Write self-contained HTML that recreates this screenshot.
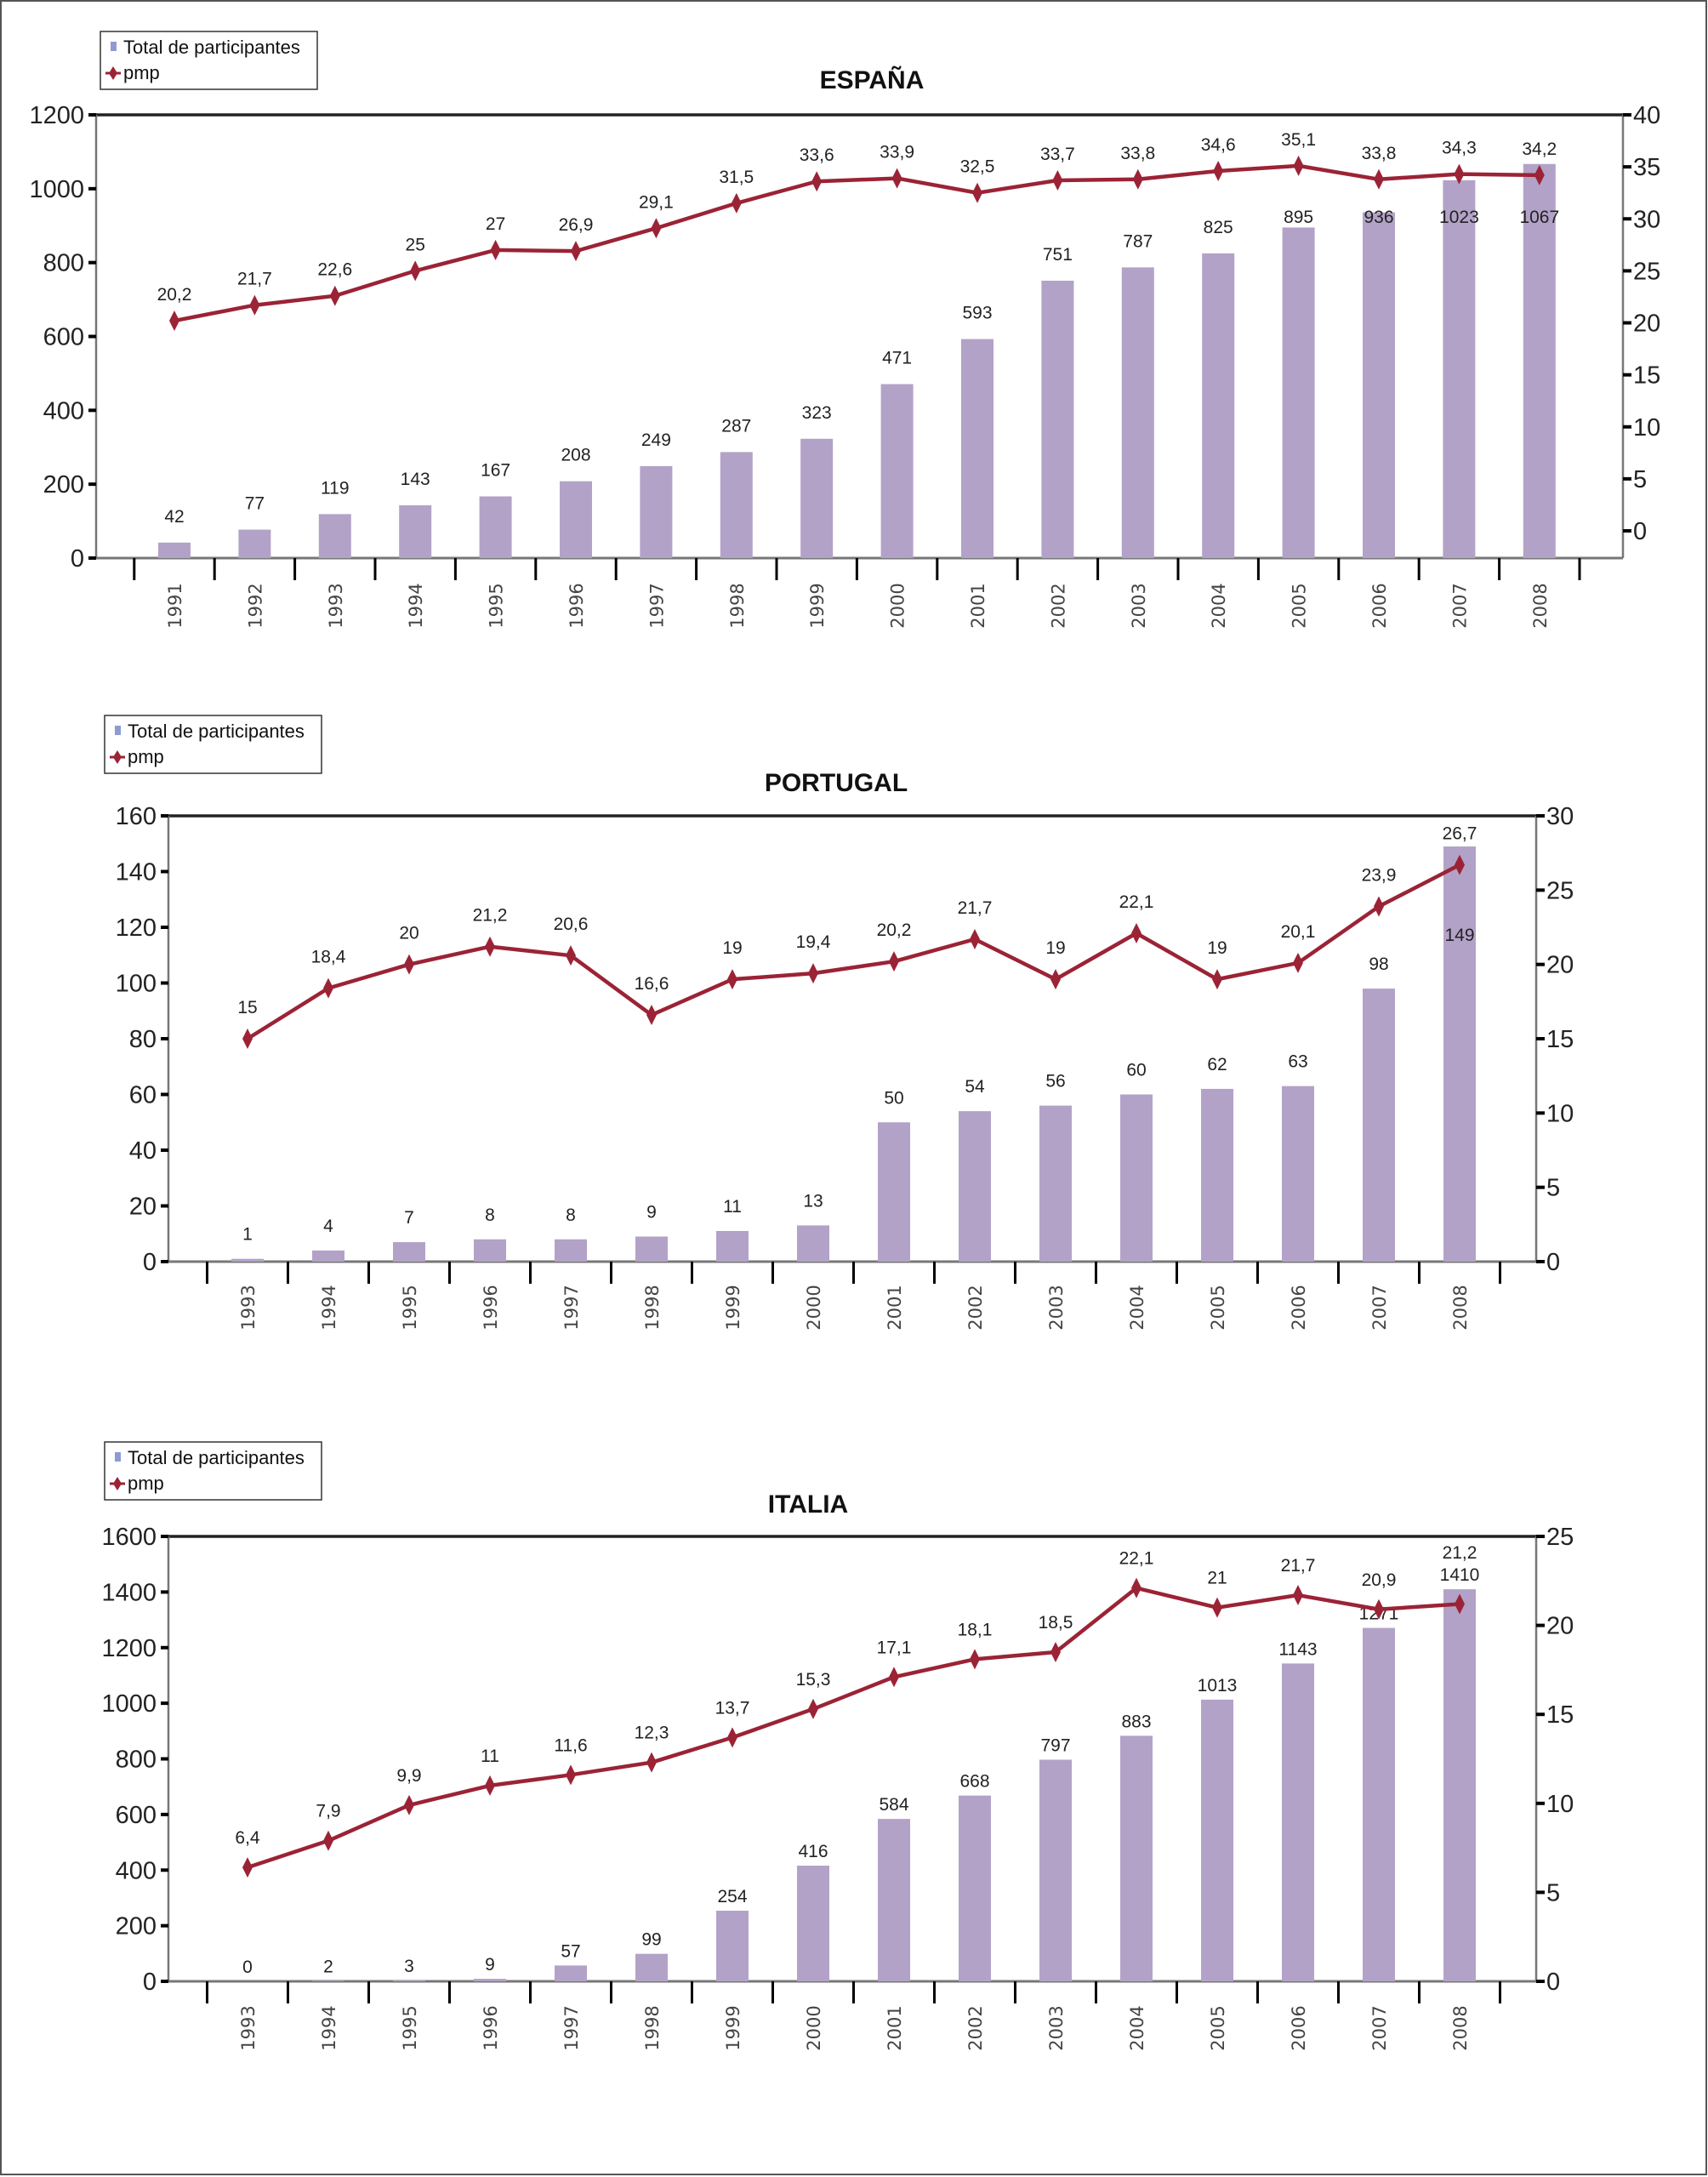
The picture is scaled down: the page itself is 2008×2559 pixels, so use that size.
<!DOCTYPE html>
<html><head><meta charset="utf-8"><style>
html,body{margin:0;padding:0;background:#fff}
svg{display:block}
text{font-family:"Liberation Sans Narrow","Liberation Sans",sans-serif}
.yr{font-family:"DejaVu Sans","Liberation Sans",sans-serif;fill:#444;font-size:21px}
</style></head><body>
<svg id="root" width="2008" height="2559" viewBox="0 0 2008 2559" xmlns="http://www.w3.org/2000/svg">
<rect x="1" y="1" width="2005" height="2555" fill="#fff" stroke="#555" stroke-width="2"/>
</svg>
<script>
// ESPAÑA data
const esYears = ["1991","1992","1993","1994","1995","1996","1997","1998","1999","2000","2001","2002","2003","2004","2005","2006","2007","2008"];
const esTotal = [42,77,119,143,167,208,249,287,323,471,593,751,787,825,895,936,1023,1067];
const esPmp = [20.2,21.7,22.6,25,27,26.9,29.1,31.5,33.6,33.9,32.5,33.7,33.8,34.6,35.1,33.8,34.3,34.2];
const esLeftTicks = [0,200,400,600,800,1000,1200];
const esRightTicks = [0,5,10,15,20,25,30,35,40];
// PORTUGAL data
const ptYears = ["1993","1994","1995","1996","1997","1998","1999","2000","2001","2002","2003","2004","2005","2006","2007","2008"];
const ptTotal = [1,4,7,8,8,9,11,13,50,54,56,60,62,63,98,149];
const ptPmp = [15,18.4,20,21.2,20.6,16.6,19,19.4,20.2,21.7,19,22.1,19,20.1,23.9,26.7];
const ptLeftTicks = [0,20,40,60,80,100,120,140,160];
const ptRightTicks = [0,5,10,15,20,25,30];
// ITALIA data
const itYears = ["1993","1994","1995","1996","1997","1998","1999","2000","2001","2002","2003","2004","2005","2006","2007","2008"];
const itTotal = [0,2,3,9,57,99,254,416,584,668,797,883,1013,1143,1271,1410];
const itPmp = [6.4,7.9,9.9,11,11.6,12.3,13.7,15.3,17.1,18.1,18.5,22.1,21,21.7,20.9,21.2];
const itLeftTicks = [0,200,400,600,800,1000,1200,1400,1600];
const itRightTicks = [0,5,10,15,20,25];

const NS="http://www.w3.org/2000/svg";
const root=document.getElementById('root');
function mk(tag,attrs,parent,txt){const e=document.createElementNS(NS,tag);for(const k in attrs)e.setAttribute(k,attrs[k]);if(txt!==undefined)e.textContent=txt;(parent||root).appendChild(e);return e;}
function fmt(v){return String(v).replace('.',',');}

function chart(cfg){
  const g=mk('g',{});
  
  
  const n=cfg.years.length;
  const yL=v=>cfg.y0-(v/cfg.lMax)*(cfg.y0-cfg.yTop);
  const yR=v=>cfg.r0-(v/cfg.rMax)*(cfg.r0-cfg.yTop);
  const xC=i=>cfg.c0+i*cfg.step;
  // legend
  const lg=mk('g',{},g);
  
  
  mk('rect',{x:cfg.lx,y:cfg.ly,width:255,height:68,fill:'#fff',stroke:'#333','stroke-width':1.5},lg);
  const le1=mk('g',{},lg);
  
  
  mk('rect',{x:cfg.lx+12,y:cfg.ly+12,width:7,height:11,fill:'#8f9bd0'},le1);
  mk('text',{x:cfg.lx+27,y:cfg.ly+26,'font-size':22,fill:'#111'},le1,'Total de participantes');
  const le2=mk('g',{},lg);
  
  
  mk('line',{x1:cfg.lx+6,y1:cfg.ly+49,x2:cfg.lx+24,y2:cfg.ly+49,stroke:'#9b2335','stroke-width':3},le2);
  mk('path',{d:`M${cfg.lx+15} ${cfg.ly+41}L${cfg.lx+20} ${cfg.ly+49}L${cfg.lx+15} ${cfg.ly+57}L${cfg.lx+10} ${cfg.ly+49}Z`,fill:'#9b2335'},le2);
  mk('text',{x:cfg.lx+27,y:cfg.ly+56,'font-size':22,fill:'#111'},le2,'pmp');
  // title
  const t=mk('text',{x:cfg.tx,y:cfg.ty,'font-size':30,'font-weight':'bold','text-anchor':'middle',fill:'#111'},g,cfg.title);
  
  
  // axes
  mk('line',{x1:cfg.xL,y1:cfg.yTop,x2:cfg.xR,y2:cfg.yTop,stroke:'#222','stroke-width':3.5},g);
  const la=mk('line',{x1:cfg.xL,y1:cfg.yTop,x2:cfg.xL,y2:cfg.y0,stroke:'#777','stroke-width':2.5},g);
  
  
  const ra=mk('line',{x1:cfg.xR,y1:cfg.yTop,x2:cfg.xR,y2:cfg.y0,stroke:'#777','stroke-width':2.5},g);
  
  
  const xa=mk('line',{x1:cfg.xL,y1:cfg.y0,x2:cfg.xR,y2:cfg.y0,stroke:'#777','stroke-width':3},g);
  
  
  cfg.lTicks.forEach(v=>{
    const y=yL(v);
    mk('line',{x1:cfg.xL-9,y1:y,x2:cfg.xL,y2:y,stroke:'#000','stroke-width':4},g);
    const tl=mk('text',{x:cfg.xL-14,y:y+10,'font-size':29,'text-anchor':'end',fill:'#222'},g,String(v));
    
    
  });
  cfg.rTicks.forEach(v=>{
    const y=yR(v);
    mk('line',{x1:cfg.xR,y1:y,x2:cfg.xR+10,y2:y,stroke:'#000','stroke-width':4},g);
    const tl=mk('text',{x:cfg.xR+12,y:y+10,'font-size':29,fill:'#222'},g,String(v));
    
    
  });
  for(let i=0;i<=n;i++){
    const x=xC(i)-cfg.step/2;
    mk('line',{x1:x,y1:cfg.y0,x2:x,y2:cfg.y0+26,stroke:'#000','stroke-width':3},g);
  }
  // bars
  const barLabelY=[];
  cfg.total.forEach((v,i)=>{
    const top=yL(v);
    const b=mk('rect',{x:xC(i)-19,y:top,width:38,height:Math.max(0,cfg.y0-top),fill:'#b3a2c7'},g);
    
    
    const by=Math.max(top-cfg.barGap,cfg.barClamp);
    barLabelY.push(by);
    const bl=mk('text',{x:xC(i),y:by,'font-size':21,'text-anchor':'middle',fill:'#222'},g,String(v));
    
    
  });
  // line
  const pts=cfg.pmp.map((v,i)=>xC(i)+','+yR(v)).join(' ');
  const pl=mk('polyline',{points:pts,fill:'none',stroke:'#9b2335','stroke-width':4.5,'stroke-linejoin':'round'},g);
  
  
  cfg.pmp.forEach((v,i)=>{
    const x=xC(i),y=yR(v);
    const m=mk('path',{d:`M${x} ${y-12}L${x+6} ${y}L${x} ${y+12}L${x-6} ${y}Z`,fill:'#9b2335'},g);
    
    
    let ly=y-cfg.pGap;
    if(Math.abs(ly-barLabelY[i])<20) ly=barLabelY[i]-26;
    const pl2=mk('text',{x:x,y:ly,'font-size':21,'text-anchor':'middle',fill:'#222'},g,fmt(v));
    
    
  });
  // year labels
  cfg.years.forEach((yv,i)=>{
    const x=xC(i)+8,y=cfg.yrY;
    const tl=mk('text',{x:x,y:y,class:'yr','text-anchor':'middle',transform:`rotate(-90 ${x} ${y})`},g,yv);
    
    
  });
}

chart({key:'espana',title:'ESPAÑA',years:esYears,total:esTotal,pmp:esPmp,lTicks:esLeftTicks,rTicks:esRightTicks,
  xL:113,xR:1908,yTop:135,y0:656,r0:624,lMax:1200,rMax:40,c0:205,step:94.4,
  lx:118,ly:37,tx:1025,ty:104,yrY:712,barGap:24,barClamp:262,pGap:24});
chart({key:'portugal',title:'PORTUGAL',years:ptYears,total:ptTotal,pmp:ptPmp,lTicks:ptLeftTicks,rTicks:ptRightTicks,
  xL:198,xR:1806,yTop:959,y0:1483,r0:1483,lMax:160,rMax:30,c0:291,step:95,
  lx:123,ly:841,tx:983,ty:930,yrY:1537,barGap:22,barClamp:1106,pGap:30});
chart({key:'italia',title:'ITALIA',years:itYears,total:itTotal,pmp:itPmp,lTicks:itLeftTicks,rTicks:itRightTicks,
  xL:198,xR:1806,yTop:1806,y0:2329,r0:2329,lMax:1600,rMax:25,c0:291,step:95,
  lx:123,ly:1695,tx:950,ty:1778,yrY:2384,barGap:10,barClamp:1856,pGap:28});
</script>
</body></html>
